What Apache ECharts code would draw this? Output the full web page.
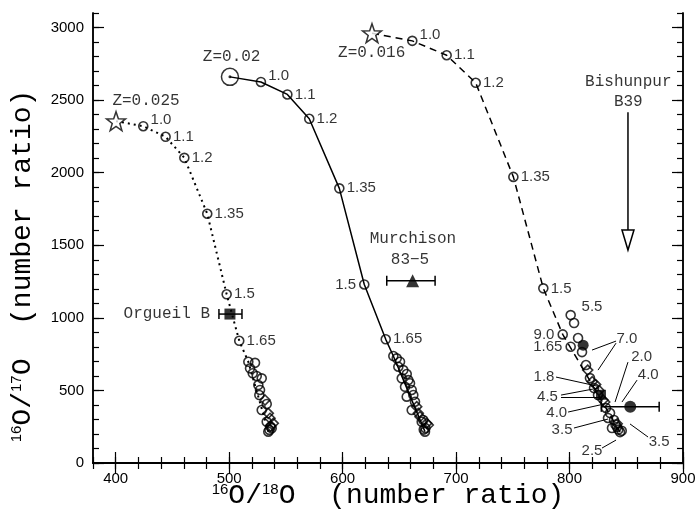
<!DOCTYPE html>
<html><head><meta charset="utf-8">
<script src="https://cdn.jsdelivr.net/npm/echarts@6/dist/echarts.min.js"></script>
<style>html,body{margin:0;padding:0;background:#fff}#c{width:697px;height:516px}</style>
</head><body><div id="c"></div>
<script>
// ---------- data ----------
const xMajorTicks = [400, 500, 600, 700, 800, 900];
const yMajorTicks = [0, 500, 1000, 1500, 2000, 2500, 3000];

// Z=0.025 track (dotted)
const star025 = [400.3, 2355];
const mass025 = ['1.0', '1.1', '1.2', '1.35', '1.5', '1.65'];
const track025X = [424.3, 444.0, 460.5, 480.7, 497.8, 508.9];
const track025Y = [2320, 2247, 2102, 1717, 1162, 842];
const cl025CircX = [516.9, 522.8, 518.4, 520.8, 524.3, 528.7, 525.7, 527.2, 526.6, 533.1, 528.7, 533.1, 537.5, 534.5, 535.5, 536.5];
const cl025CircY = [697, 690, 652, 618, 599, 583, 537, 503, 468, 406, 365, 284, 239, 216, 228, 250];
const cl025DiamX = [531.6, 534.5, 536.0, 538.9, 536.5];
const cl025DiamY = [434, 342, 308, 273, 255];

// Z=0.02 track (solid)
const start02 = [500.7, 2660];
const mass02 = ['1.0', '1.1', '1.2', '1.35', '1.5', '1.65'];
const track02X = [528.0, 551.3, 570.6, 597.1, 619.1, 638.0];
const track02Y = [2625, 2539, 2371, 1892, 1230, 852];
const cl02CircX = [644.7, 647.7, 650.6, 649.1, 653.5, 656.5, 652.1, 657.9, 659.4, 655.0, 660.9, 662.3, 656.5, 663.8, 660.9, 671.1, 669.7, 672.6, 671.5, 673.0];
const cl02CircY = [737, 721, 698, 663, 640, 613, 583, 571, 549, 525, 503, 468, 457, 422, 365, 296, 284, 216, 230, 240];
const cl02DiamX = [665.3, 666.7, 668.2, 674.1, 675.5];
const cl02DiamY = [388, 342, 319, 273, 262];

// Z=0.016 track (dashed)
const star016 = [625.9, 2961];
const mass016 = ['1.0', '1.1', '1.2', '1.35', '1.5'];
const track016X = [661.4, 691.7, 717.3, 750.5, 776.9];
const track016Y = [2908, 2809, 2619, 1971, 1203];
const mass016b = ['9.0', '1.65'];
const track016bX = [794.0, 801.0];
const track016bY = [886, 801];
const cl016CircX = [801.0, 804.0, 807.5, 811.0, 814.5, 818.0, 821.6, 825.1, 832.1, 835.7, 839.2, 841.8, 844.5, 837.4, 833.9, 843.0, 840.5, 846.0];
const cl016CircY = [1019, 964, 861, 764, 675, 585, 516, 468, 379, 344, 296, 248, 213, 241, 310, 230, 265, 222];
const cl016DiamX = [816.0, 820.0, 826.0, 829.5, 831.0, 842.0, 823.0];
const cl016DiamY = [640, 560, 500, 434, 420, 270, 540];
const grainCircX = [812.0];
const grainCircY = [812];
const grainSqX = [827.7];
const grainSqY = [470];

// meteorite grains with error bars: [x, y, xLow, xHigh]
const orgueil = [500.7, 1026, 491.0, 511.3];
const murchison = [661.7, 1255, 638.9, 681.5];
const bishunpur = [853.5, 387, 828.0, 879.0];
const bishunpurArrow = [851.5, 2417, 1467];

// text annotations
const noteTexts = ['Z=0.025', 'Z=0.02', 'Z=0.016', 'Murchison', '83\u22125', 'Bishunpur', 'B39', 'Orgueil B'];
const noteX = [426.7, 502.2, 625.6, 662.0, 659.4, 851.8, 851.8, 483.1];
const noteY = [2493, 2798, 2823, 1542, 1398, 2625, 2488, 1026];

// mass labels with pointer arrows
const ptrTexts = ['1.8', '4.5', '4.0', '3.5', '2.5', '7.0', '2.0', '4.0', '3.5', '5.5'];
const ptrTextX = [777.5, 780.6, 788.7, 793.4, 819.8, 850.6, 863.6, 869.4, 878.9, 819.8];
const ptrTextY = [594, 457, 342, 227, 83, 854, 732, 606, 147, 1076];
// arrows: [x1, y1, x2, y2]
const arrows = [
  [788.1, 592, 824.2, 530],
  [792.5, 468, 825.1, 516],
  [792.5, 454, 828.6, 454],
  [798.7, 351, 830.4, 406],
  [803.9, 241, 833.9, 303],
  [828.6, 103, 841.0, 158],
  [841.0, 840, 819.8, 778],
  [841.0, 826, 825.1, 640],
  [851.5, 695, 840.1, 420],
  [859.5, 571, 846.2, 420],
  [869.2, 179, 853.3, 269]
];

// ---------- helpers ----------
const zip = (xs, ys) => xs.map((x, i) => [x, ys[i]]);
const MONO = 'Liberation Mono';
const SANS = 'Liberation Sans';
const STAR = 'path://M10,0 L12.351,6.764 L19.511,6.910 L13.804,11.236 L15.878,18.090 L10,14 L4.122,18.090 L6.196,11.236 L0.489,6.910 L7.649,6.764 Z';
const hollow = { color: 'rgba(0,0,0,0)', borderColor: '#000', borderWidth: 1.6 };

function massSeries(xs, ys, names, leftIdx, upIdx) {
  return {
    type: 'scatter', symbol: 'circle', symbolSize: 9, itemStyle: hollow, z: 5,
    data: xs.map((x, i) => {
      const it = { value: [x, ys[i]], name: names[i] };
      if (leftIdx.indexOf(i) >= 0) it.label = { position: 'left', distance: 3 };
      if (upIdx.indexOf(i) >= 0) it.label = { offset: [0, -6] };
      return it;
    }),
    label: { show: true, position: 'right', distance: 2, formatter: p => p.name,
      fontFamily: SANS, fontSize: 15, color: '#000' }
  };
}
function clusterSeries(xs, ys, sym) {
  return { type: 'scatter', symbol: sym, symbolSize: sym === 'diamond' ? 10 : 9,
    itemStyle: hollow, z: 4, data: zip(xs, ys) };
}
function trackLine(pts, type, w) {
  return { type: 'line', data: pts, symbol: 'none', z: 2,
    lineStyle: { color: '#000', width: w, type: type } };
}
function errBar(d, sym, size) {
  return [{
    type: 'custom', z: 6, data: [d],
    renderItem: (params, api) => {
      const y = api.value(1);
      const a = api.coord([api.value(2), y]);
      const b = api.coord([api.value(3), y]);
      const h = 5;
      const st = { stroke: '#000', lineWidth: 1.5 };
      return { type: 'group', children: [
        { type: 'line', shape: { x1: a[0], y1: a[1], x2: b[0], y2: b[1] }, style: st },
        { type: 'line', shape: { x1: a[0], y1: a[1] - h, x2: a[0], y2: a[1] + h }, style: st },
        { type: 'line', shape: { x1: b[0], y1: b[1] - h, x2: b[0], y2: b[1] + h }, style: st }
      ] };
    }
  }, {
    type: 'scatter', symbol: sym, symbolSize: size, z: 7,
    itemStyle: { color: '#000' }, data: [[d[0], d[1]]]
  }];
}

// ---------- chart ----------
const chart = echarts.init(document.getElementById('c'), null, { renderer: 'canvas' });

const axisLine = { show: true, lineStyle: { color: '#000', width: 1.5 } };
const majTick = (vals) => ({ show: true, inside: true, length: 11, customValues: vals,
  lineStyle: { color: '#000', width: 1.2 } });
const minTick = { show: true, inside: true, length: 6, lineStyle: { color: '#000', width: 1.2 } };
const noLabel = { show: false };

const xBase = { type: 'value', min: 380, max: 900, splitLine: { show: false } };
const yBase = { type: 'value', min: 0, max: 3100, splitLine: { show: false } };

const series = [];
series.push(trackLine([star025, ...zip(track025X, track025Y), [cl025CircX[0], cl025CircY[0]], [cl025CircX[13], cl025CircY[13]]], [2, 4], 2));
series.push(trackLine([start02, ...zip(track02X, track02Y), [cl02CircX[0], cl02CircY[0]], [cl02CircX[17], cl02CircY[17]]], 'solid', 1.5));
series.push(trackLine([star016, ...zip(track016X, track016Y), [track016bX[0], track016bY[0]], [cl016CircX[12], cl016CircY[12]]], [7, 5], 1.5));
series.push({ type: 'scatter', symbol: STAR, symbolSize: 19, z: 6,
  itemStyle: { color: '#fff', borderColor: '#000', borderWidth: 1.5 },
  data: [star025, star016] });
series.push({ type: 'scatter', symbol: 'circle', symbolSize: 17, z: 6,
  itemStyle: { color: 'rgba(0,0,0,0)', borderColor: '#000', borderWidth: 1.5 }, data: [start02] });
series.push({ type: 'scatter', symbol: 'circle', symbolSize: 3, z: 6,
  itemStyle: { color: '#000' }, data: [start02] });
series.push(massSeries(track025X, track025Y, mass025, [], [0]));
series.push(massSeries(track02X, track02Y, mass02, [4], [0]));
series.push(massSeries(track016X, track016Y, mass016, [], [0]));
series.push(massSeries(track016bX, track016bY, mass016b, [0, 1], []));
series.push(clusterSeries(cl025CircX, cl025CircY, 'circle'));
series.push(clusterSeries(cl025DiamX, cl025DiamY, 'diamond'));
series.push(clusterSeries(cl02CircX, cl02CircY, 'circle'));
series.push(clusterSeries(cl02DiamX, cl02DiamY, 'diamond'));
series.push(clusterSeries(cl016CircX, cl016CircY, 'circle'));
series.push(clusterSeries(cl016DiamX, cl016DiamY, 'diamond'));
series.push({ type: 'scatter', symbol: 'circle', symbolSize: 11, z: 7, itemStyle: { color: '#000' }, data: zip(grainCircX, grainCircY) });
series.push({ type: 'scatter', symbol: 'rect', symbolSize: 10, z: 7, itemStyle: { color: '#000' }, data: zip(grainSqX, grainSqY) });
series.push(...errBar(orgueil, 'rect', 11));
series.push(...errBar(murchison, 'triangle', 13));
series.push(...errBar(bishunpur, 'circle', 12));
series.push({
  type: 'custom', z: 6, data: [bishunpurArrow],
  renderItem: (params, api) => {
    const top = api.coord([api.value(0), api.value(1)]);
    const tip = api.coord([api.value(0), api.value(2)]);
    const hl = 20, hw = 6;
    const st = { stroke: '#000', lineWidth: 1.5, fill: '#fff' };
    return { type: 'group', children: [
      { type: 'line', shape: { x1: top[0], y1: top[1], x2: tip[0], y2: tip[1] - hl }, style: st },
      { type: 'polygon', shape: { points: [[tip[0] - hw, tip[1] - hl], [tip[0] + hw, tip[1] - hl], [tip[0], tip[1]]] }, style: st }
    ] };
  }
});
series.push({
  type: 'line', data: [], silent: true,
  markLine: { silent: true, animation: false, symbol: ['none', 'arrow'], symbolSize: [0, 6],
    label: { show: false }, lineStyle: { color: '#000', width: 1, type: 'solid' },
    data: arrows.map(a => [{ coord: [a[0], a[1]] }, { coord: [a[2], a[3]] }]) }
});
series.push({ type: 'scatter', symbolSize: 0, z: 8,
  data: ptrTexts.map((t, i) => ({ value: [ptrTextX[i], ptrTextY[i]], name: t })),
  label: { show: true, position: 'inside', formatter: p => p.name, fontFamily: SANS, fontSize: 15, color: '#000' } });
series.push({ type: 'scatter', symbolSize: 0, z: 8,
  data: noteTexts.map((t, i) => {
    const it = { value: [noteX[i], noteY[i]], name: t };
    if (t === 'Orgueil B') it.label = { align: 'right' };
    return it;
  }),
  label: { show: true, position: 'inside', formatter: p => p.name, fontFamily: MONO, fontSize: 16, color: '#000' } });

const titleRich = { sup: { fontFamily: SANS, fontSize: 15, verticalAlign: 'top', color: '#000' } };
const plain = v => String(v);

chart.setOption({
  animation: false,
  backgroundColor: '#fff',
  grid: { left: 93, top: 13, width: 590, height: 450, containLabel: false, outerBoundsMode: 'none' },
  xAxis: [
    Object.assign({}, xBase, { position: 'bottom', axisLine,
      axisTick: majTick(xMajorTicks),
      axisLabel: { show: true, customValues: xMajorTicks, formatter: plain, margin: 8, fontFamily: SANS, fontSize: 15, color: '#000' },
      name: '{sup|16}O/{sup|18}O  (number ratio)', nameLocation: 'middle', nameGap: 19, nameMoveOverlap: false,
      nameTextStyle: { fontFamily: MONO, fontSize: 28, color: '#000', rich: titleRich } }),
    Object.assign({}, xBase, { position: 'bottom', interval: 20, axisLine, axisTick: minTick, axisLabel: noLabel }),
    Object.assign({}, xBase, { position: 'top', axisLine, axisTick: majTick(xMajorTicks), axisLabel: noLabel }),
    Object.assign({}, xBase, { position: 'top', interval: 20, axisLine, axisTick: minTick, axisLabel: noLabel })
  ],
  yAxis: [
    Object.assign({}, yBase, { position: 'left', axisLine,
      axisTick: majTick(yMajorTicks),
      axisLabel: { show: true, customValues: yMajorTicks, formatter: plain, margin: 9, fontFamily: SANS, fontSize: 15, color: '#000' },
      name: '{sup|16}O/{sup|17}O  (number ratio)', nameLocation: 'middle', nameGap: 56, nameRotate: 90, nameMoveOverlap: false,
      nameTextStyle: { fontFamily: MONO, fontSize: 28, color: '#000', rich: titleRich, padding: [0, 56, 0, 0] } }),
    Object.assign({}, yBase, { position: 'left', interval: 100, axisLine, axisTick: minTick, axisLabel: noLabel }),
    Object.assign({}, yBase, { position: 'right', axisLine, axisTick: majTick(yMajorTicks), axisLabel: noLabel }),
    Object.assign({}, yBase, { position: 'right', interval: 100, axisLine, axisTick: minTick, axisLabel: noLabel })
  ],
  series: series
});
</script></body></html>
